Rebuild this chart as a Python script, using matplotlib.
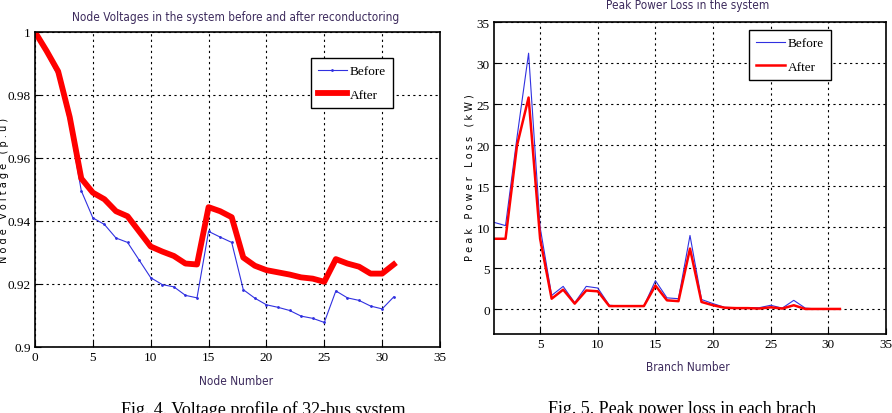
import matplotlib
matplotlib.use("Agg")
import matplotlib.pyplot as plt
from matplotlib import font_manager

# voltage profile data (nodes 0..31)
nodes = list(range(32))
v_before = [1.0, 0.993, 0.986, 0.9705, 0.9496, 0.941, 0.9389, 0.9346, 0.9332, 0.9276,
            0.922, 0.9198, 0.9191, 0.9164, 0.9156, 0.9367, 0.9349, 0.9332, 0.9182, 0.9155,
            0.9134, 0.9126, 0.9116, 0.9098, 0.9091, 0.9078, 0.9178, 0.9156, 0.9148, 0.913,
            0.9121, 0.9159]
v_after = [1.0, 0.994, 0.9875, 0.973, 0.9535, 0.949, 0.9469, 0.9431, 0.9415, 0.9367,
           0.9319, 0.9303, 0.9289, 0.9265, 0.9262, 0.9444, 0.9431, 0.9412, 0.9284, 0.9258,
           0.9244, 0.9237, 0.923, 0.9221, 0.9217, 0.9207, 0.9279, 0.9265, 0.9255, 0.9233,
           0.9233, 0.9262]

# peak power loss per branch (branches 1..31)
branches = list(range(1, 32))
p_before = [10.6, 10.2, 21.0, 31.2, 10.0, 1.7, 2.8, 0.8, 2.8, 2.6,
            0.5, 0.4, 0.4, 0.4, 3.5, 1.4, 1.3, 9.0, 1.2, 0.7,
            0.25, 0.2, 0.2, 0.2, 0.5, 0.15, 1.1, 0.15, 0.05, 0.05, 0.05]
p_after = [8.6, 8.6, 20.0, 25.8, 8.6, 1.3, 2.4, 0.7, 2.3, 2.2,
           0.4, 0.4, 0.4, 0.4, 2.9, 1.1, 1.0, 7.4, 0.9, 0.5,
           0.2, 0.15, 0.15, 0.1, 0.25, 0.1, 0.5, 0.05, 0.05, 0.05, 0.05]

W, H = 892, 414
fig = plt.figure(figsize=(W / 100, H / 100), dpi=100)

# narrow sans for titles, if one is around
names = {f.name for f in font_manager.fontManager.ttflist}
narrow = "DejaVu Sans"
for cand in ["Liberation Sans Narrow", "DejaVu Sans Condensed"]:
    if cand in names:
        narrow = cand
        break

title_font = {"family": narrow, "stretch": "condensed", "size": 8.5, "color": "#3c2a5c"}
legend_prop = {"family": "Liberation Serif", "size": 9.5}


def px_axes(x0, y0, x1, y1):
    return fig.add_axes([x0 / W, 1 - y1 / H, (x1 - x0) / W, (y1 - y0) / H])


def style(ax):
    ax.grid(True, color="black", linestyle=(0, (2, 3)), linewidth=0.8)
    ax.tick_params(direction="in", length=4, width=0.8, pad=3)
    for s in ax.spines.values():
        s.set_linewidth(1.2)
    for lab in ax.get_xticklabels() + ax.get_yticklabels():
        lab.set_fontfamily("Liberation Serif")
        lab.set_fontsize(9.5)


# left chart
ax1 = px_axes(35, 33, 440, 348)
ax1.plot(nodes, v_before, color="#3030e0", linewidth=0.8, marker=".", markersize=2, label="Before")
ax1.plot(nodes, v_after, color="red", linewidth=4.2, label="After")
ax1.set_xlim(0, 35)
ax1.set_ylim(0.9, 1.0)
ax1.set_xticks([0, 5, 10, 15, 20, 25, 30, 35])
ax1.set_yticks([0.9, 0.92, 0.94, 0.96, 0.98, 1.0])
ax1.set_yticklabels(["0.9", "0.92", "0.94", "0.96", "0.98", "1"])
style(ax1)
ax1.legend(loc="upper right", bbox_to_anchor=((393 - 35) / 405, (348 - 59) / 315), borderaxespad=0,
           frameon=True, fancybox=False, edgecolor="black", framealpha=1, prop=legend_prop,
           handlelength=2.2, borderpad=0.55, labelspacing=0.85, handletextpad=0.2)
fig.text(236 / W, 1 - 17 / H, "Node Voltages in the system before and after reconductoring",
         ha="center", va="center", **title_font)
fig.text(236 / W, 1 - 382 / H, "Node Number", ha="center", va="center", **title_font)
fig.text(4 / W, 1 - 190 / H, "N o d e   V o l t a g e   ( p . u )", rotation=90,
         ha="center", va="center", fontsize=7, family="DejaVu Sans")

# right chart
ax2 = px_axes(494, 23, 886, 335)
ax2.plot(branches, p_before, color="#3030e0", linewidth=0.8, label="Before")
ax2.plot(branches, p_after, color="red", linewidth=1.8, label="After")
ax2.set_xlim(1, 35)
ax2.set_ylim(-3, 35)
ax2.set_xticks([5, 10, 15, 20, 25, 30, 35])
ax2.set_yticks([0, 5, 10, 15, 20, 25, 30, 35])
style(ax2)
ax2.legend(loc="upper right", bbox_to_anchor=((831 - 494) / 392, (335 - 31) / 312), borderaxespad=0,
           frameon=True, fancybox=False, edgecolor="black", framealpha=1, prop=legend_prop,
           handlelength=2.2, borderpad=0.55, labelspacing=0.85, handletextpad=0.2)
fig.text(688 / W, 1 - 5 / H, "Peak Power Loss in the system", ha="center", va="center", **title_font)
fig.text(688 / W, 1 - 368 / H, "Branch Number", ha="center", va="center", **title_font)
fig.text(470 / W, 1 - 178 / H, "P e a k   P o w e r   L o s s   ( k W )", rotation=90,
         ha="center", va="center", fontsize=7, family="DejaVu Sans")

# captions (cut at the bottom edge, as in the source)
fig.text(263 / W, 1 - 401 / H, "Fig. 4. Voltage profile of 32-bus system", ha="center", va="top",
         family="Liberation Serif", fontsize=13)
fig.text(682 / W, 1 - 401 / H, "Fig. 5. Peak power loss in each brach", ha="center", va="top",
         family="Liberation Serif", fontsize=13)

fig.savefig("out.png", dpi=100)
